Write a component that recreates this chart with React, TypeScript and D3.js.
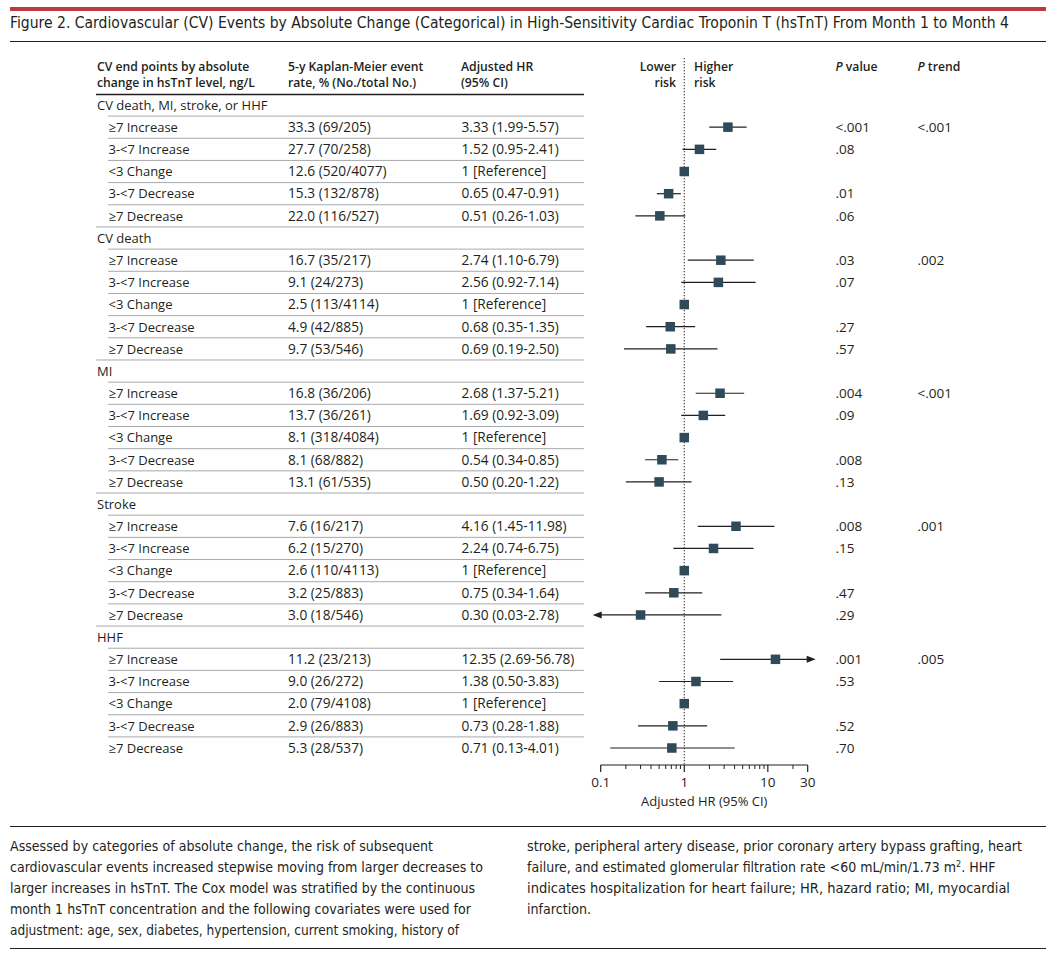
import React from "react";
import * as d3 from "d3";

const groups = ["CV death, MI, stroke, or HHF", "CV death", "MI", "Stroke", "HHF"];
const categories = ["≥7 Increase", "3-<7 Increase", "<3 Change", "3-<7 Decrease", "≥7 Decrease"];

const eventRates = [
  ["33.3 (69/205)", "27.7 (70/258)", "12.6 (520/4077)", "15.3 (132/878)", "22.0 (116/527)"],
  ["16.7 (35/217)", "9.1 (24/273)", "2.5 (113/4114)", "4.9 (42/885)", "9.7 (53/546)"],
  ["16.8 (36/206)", "13.7 (36/261)", "8.1 (318/4084)", "8.1 (68/882)", "13.1 (61/535)"],
  ["7.6 (16/217)", "6.2 (15/270)", "2.6 (110/4113)", "3.2 (25/883)", "3.0 (18/546)"],
  ["11.2 (23/213)", "9.0 (26/272)", "2.0 (79/4108)", "2.9 (26/883)", "5.3 (28/537)"],
];

const hrPoint = [
  [3.33, 1.52, 1, 0.65, 0.51],
  [2.74, 2.56, 1, 0.68, 0.69],
  [2.68, 1.69, 1, 0.54, 0.5],
  [4.16, 2.24, 1, 0.75, 0.3],
  [12.35, 1.38, 1, 0.73, 0.71],
];
const hrLower = [
  [1.99, 0.95, 1, 0.47, 0.26],
  [1.1, 0.92, 1, 0.35, 0.19],
  [1.37, 0.92, 1, 0.34, 0.2],
  [1.45, 0.74, 1, 0.34, 0.03],
  [2.69, 0.5, 1, 0.28, 0.13],
];
const hrUpper = [
  [5.57, 2.41, 1, 0.91, 1.03],
  [6.79, 7.14, 1, 1.35, 2.5],
  [5.21, 3.09, 1, 0.85, 1.22],
  [11.98, 6.75, 1, 1.64, 2.78],
  [56.78, 3.83, 1, 1.88, 4.01],
];

const pValues = [
  ["<.001", ".08", "", ".01", ".06"],
  [".03", ".07", "", ".27", ".57"],
  [".004", ".09", "", ".008", ".13"],
  [".008", ".15", "", ".47", ".29"],
  [".001", ".53", "", ".52", ".70"],
];
const pTrend = ["<.001", ".002", "<.001", ".001", ".005"];

const majorTicks = [0.1, 1, 10, 30];
const minorTicks = [0.2, 0.3, 0.4, 0.5, 0.6, 0.7, 0.8, 0.9, 2, 3, 4, 5, 6, 7, 8, 9, 20];

const noteLeft = [
  "Assessed by categories of absolute change, the risk of subsequent",
  "cardiovascular events increased stepwise moving from larger decreases to",
  "larger increases in hsTnT. The Cox model was stratified by the continuous",
  "month 1 hsTnT concentration and the following covariates were used for",
  "adjustment: age, sex, diabetes, hypertension, current smoking, history of",
];
const noteLeftWidth = [423, 473, 465, 461, 449];
const noteRight = [
  "stroke, peripheral artery disease, prior coronary artery bypass grafting, heart",
  "failure, and estimated glomerular filtration rate <60 mL/min/1.73 m",
  "indicates hospitalization for heart failure; HR, hazard ratio; MI, myocardial",
  "infarction.",
];
const noteRightWidth = [495, 0, 483, 64];

const W = 1062;
const H = 966;
const INK = "#231f20";
const MARK = "#2f4b59";
const SANS = "'Open Sans', 'Noto Sans', sans-serif";
const COND = "'Liberation Sans Narrow', 'DejaVu Sans Condensed', 'Roboto', sans-serif";

const fmt = (v: number) => v.toFixed(2);

export default function App() {
  const x = d3.scaleLog().domain([0.1, 30]).range([600.7, 807.7]);
  const y = d3.scaleLinear().domain([0, 29]).range([105, 748]);
  const refX = x(1);
  const axisY = 765;

  type Row = { kind: "group" | "item"; g: number; c: number; idx: number };
  const rows: Row[] = [];
  groups.forEach((_, g) => {
    rows.push({ kind: "group", g, c: -1, idx: rows.length });
    categories.forEach((__, c) => rows.push({ kind: "item", g, c, idx: rows.length }));
  });
  const half = (y(1) - y(0)) / 2;

  return (
    <div style={{ position: "absolute", left: 0, top: 0, background: "#fff" }}>
      <svg width={W} height={H} style={{ display: "block" }}>
        <rect width={W} height={H} fill="#fff" />
        <rect x={10} y={7} width={1036} height={4} fill="#bf3b42" />
        <text x={10} y={28} fontFamily={COND} fontSize={15.5} fill={INK} textLength={999} lengthAdjust="spacingAndGlyphs">
          Figure 2. Cardiovascular (CV) Events by Absolute Change (Categorical) in High-Sensitivity Cardiac Troponin T (hsTnT) From Month 1 to Month 4
        </text>
        <line x1={10} x2={1046} y1={41.5} y2={41.5} stroke={INK} strokeWidth={1} />

        {/* header */}
        <g fontFamily={SANS} fontSize={12.2} fontWeight={600} fill={INK}>
          <text x={97} y={70.5}>CV end points by absolute</text>
          <text x={97} y={87}>change in hsTnT level, ng/L</text>
          <text x={288} y={70.5}>5-y Kaplan-Meier event</text>
          <text x={288} y={87}>rate, % (No./total No.)</text>
          <text x={461} y={70.5}>Adjusted HR</text>
          <text x={461} y={87}>(95% CI)</text>
          <text x={676} y={70.5} textAnchor="end">Lower</text>
          <text x={676} y={87} textAnchor="end">risk</text>
          <text x={694} y={70.5}>Higher</text>
          <text x={694} y={87}>risk</text>
          <text x={835.5} y={70.5}>
            <tspan fontStyle="italic">P</tspan> value
          </text>
          <text x={917.5} y={70.5}>
            <tspan fontStyle="italic">P</tspan> trend
          </text>
        </g>
        <line x1={96} x2={584} y1={94.5} y2={94.5} stroke={INK} strokeWidth={1.5} />

        {/* row separators */}
        {rows.slice(0, -1).map((r) => {
          const next = rows[r.idx + 1];
          const full = next.kind === "group";
          return (
            <line key={`sep${r.idx}`} x1={full ? 96 : 108} x2={584} y1={y(r.idx) + half} y2={y(r.idx) + half} stroke="#a7a9ac" strokeWidth={1} />
          );
        })}

        {/* table text */}
        <g fontFamily={SANS} fontSize={13} fill={INK}>
          {rows.map((r) => {
            const ty = y(r.idx) + 4.8;
            if (r.kind === "group") {
              return (
                <g key={`r${r.idx}`}>
                  <text x={97} y={ty}>{groups[r.g]}</text>
                </g>
              );
            }
            const isRef = hrPoint[r.g][r.c] === 1 && hrLower[r.g][r.c] === 1;
            const hrText = isRef
              ? "1 [Reference]"
              : `${fmt(hrPoint[r.g][r.c])} (${fmt(hrLower[r.g][r.c])}-${fmt(hrUpper[r.g][r.c])})`;
            return (
              <g key={`r${r.idx}`}>
                <text x={108.5} y={ty}>{categories[r.c]}</text>
                <text x={288} y={ty} fontSize={13.7}>{eventRates[r.g][r.c]}</text>
                <text x={461.5} y={ty} fontSize={13.7}>{hrText}</text>
                <text x={835.5} y={ty} fontSize={13.5}>{pValues[r.g][r.c]}</text>
                {r.c === 0 && <text x={917.5} y={ty} fontSize={13.5}>{pTrend[r.g]}</text>}
              </g>
            );
          })}
        </g>

        {/* reference line */}
        <line x1={refX} x2={refX} y1={58} y2={axisY} stroke={INK} strokeWidth={1} strokeDasharray="1.3,1.7" />

        {/* forest marks */}
        {rows
          .filter((r) => r.kind === "item")
          .map((r) => {
            const cy = y(r.idx);
            const lo = hrLower[r.g][r.c];
            const hi = hrUpper[r.g][r.c];
            const pt = hrPoint[r.g][r.c];
            const [d0, d1] = x.domain();
            const loArrow = lo < d0;
            const hiArrow = hi > d1;
            const x0 = loArrow ? x(d0) - 3 : x(lo);
            const x1 = hiArrow ? x(d1) + 3 : x(hi);
            const s = 9.5;
            return (
              <g key={`m${r.idx}`}>
                {lo !== hi && <line x1={x0} x2={x1} y1={cy} y2={cy} stroke={INK} strokeWidth={1.2} />}
                {loArrow && <path d={`M${x0 - 5},${cy} L${x0 + 4},${cy - 3.5} L${x0 + 4},${cy + 3.5} Z`} fill={INK} />}
                {hiArrow && <path d={`M${x1 + 5},${cy} L${x1 - 4},${cy - 3.5} L${x1 - 4},${cy + 3.5} Z`} fill={INK} />}
                <rect x={x(pt) - s / 2} y={cy - s / 2} width={s} height={s} fill={MARK} />
              </g>
            );
          })}

        {/* axis */}
        <g>
          <line x1={x(0.1)} x2={x(30)} y1={axisY} y2={axisY} stroke={INK} strokeWidth={1.2} />
          {majorTicks.map((t) => (
            <line key={`mt${t}`} x1={x(t)} x2={x(t)} y1={axisY} y2={axisY + 7} stroke={INK} strokeWidth={1.2} />
          ))}
          {minorTicks.map((t) => (
            <line key={`nt${t}`} x1={x(t)} x2={x(t)} y1={axisY} y2={axisY + 4} stroke={INK} strokeWidth={1} />
          ))}
          <g fontFamily={SANS} fontSize={13.5} fill={INK} textAnchor="middle">
            {majorTicks.map((t) => (
              <text key={`tl${t}`} x={x(t)} y={787}>{String(t)}</text>
            ))}
            <text x={refX + 20} y={805.5} fontSize={13}>Adjusted HR (95% CI)</text>
          </g>
        </g>

        {/* footnote */}
        <line x1={10} x2={1046} y1={826.5} y2={826.5} stroke={INK} strokeWidth={1.2} />
        <g fontFamily={COND} fontSize={14} fill={INK}>
          {noteLeft.map((t, i) => (
            <text key={`nl${i}`} x={10} y={851 + i * 21} textLength={noteLeftWidth[i]} lengthAdjust="spacingAndGlyphs">{t}</text>
          ))}
          {noteRight.map((t, i) => (
            <text
              key={`nr${i}`}
              x={527}
              y={851 + i * 21}
              textLength={noteRightWidth[i] || undefined}
              lengthAdjust={noteRightWidth[i] ? "spacingAndGlyphs" : undefined}
            >
              {t}
              {i === 1 && (
                <>
                  <tspan fontSize={9} dy={-5}>2</tspan>
                  <tspan dy={5}>. HHF</tspan>
                </>
              )}
            </text>
          ))}
        </g>
        <line x1={10} x2={1046} y1={948.5} y2={948.5} stroke={INK} strokeWidth={1.2} />
      </svg>
    </div>
  );
}
